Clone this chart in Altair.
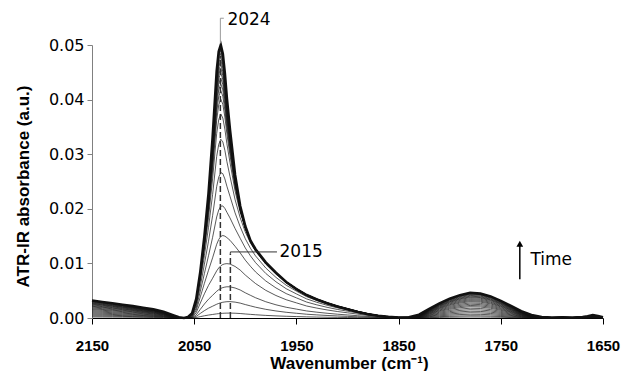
import altair as alt
import pandas as pd

grid = [2150, 2140, 2130, 2120, 2110, 2100, 2090, 2080, 2070, 2065,
        2060, 2056, 2052, 2048, 2044, 2040, 2036, 2032, 2028, 2026,
        2024, 2022, 2020, 2018, 2015, 2010, 2005, 2000, 1995, 1990,
        1980, 1970, 1960, 1950, 1940, 1930, 1920, 1910, 1900, 1890,
        1880, 1870, 1860, 1850, 1840, 1830, 1820, 1810, 1800, 1790,
        1780, 1770, 1760, 1750, 1740, 1730, 1720, 1710, 1700, 1690,
        1680, 1670, 1665, 1660, 1655, 1650]

# Main band of the last (top) spectrum, absolute absorbance
late_band = [0, 0, 0, 0, 0, 0, 0, 0, 0, 0,
             0, 0.0002, 0.0009, 0.0035, 0.0085, 0.0150, 0.0228, 0.0330, 0.0452, 0.0488,
             0.0500, 0.0484, 0.0448, 0.0402, 0.0345, 0.0262, 0.0205, 0.0168, 0.0142, 0.0126,
             0.0102, 0.0083, 0.0066, 0.0053, 0.0042, 0.0034, 0.0027, 0.0021, 0.0016, 0.0011,
             0.0007, 0.0004, 0.0002, 0.0001, 0, 0, 0, 0, 0, 0,
             0, 0, 0, 0, 0, 0, 0, 0, 0, 0,
             0, 0, 0, 0, 0, 0]
late_peak = 0.0500

# Main band shape of the early spectra (normalised to 1 at the 2015 peak)
early_band = [0, 0, 0, 0, 0, 0, 0, 0, 0, 0,
              0, 0.0, 0.01, 0.10, 0.28, 0.45, 0.60, 0.72, 0.84, 0.89,
              0.93, 0.96, 0.98, 0.995, 1.0, 0.97, 0.91, 0.82, 0.74, 0.66,
              0.53, 0.43, 0.35, 0.29, 0.23, 0.19, 0.155, 0.125, 0.10, 0.075,
              0.05, 0.03, 0.015, 0.005, 0, 0, 0, 0, 0, 0,
              0, 0, 0, 0, 0, 0, 0, 0, 0, 0,
              0, 0, 0, 0, 0, 0]

# High-wavenumber shoulder (normalised to 1 at 2150)
shoulder = [1.0, 0.92, 0.84, 0.76, 0.68, 0.59, 0.50, 0.36, 0.15, 0.04,
            0, 0, 0, 0, 0, 0, 0, 0, 0, 0,
            0, 0, 0, 0, 0, 0, 0, 0, 0, 0,
            0, 0, 0, 0, 0, 0, 0, 0, 0, 0,
            0, 0, 0, 0, 0, 0, 0, 0, 0, 0,
            0, 0, 0, 0, 0, 0, 0, 0, 0, 0,
            0, 0, 0, 0, 0, 0]
shoulder_top = 0.0032

# Band near 1780 (normalised to 1 at its maximum)
band1780 = [0, 0, 0, 0, 0, 0, 0, 0, 0, 0,
            0, 0, 0, 0, 0, 0, 0, 0, 0, 0,
            0, 0, 0, 0, 0, 0, 0, 0, 0, 0,
            0, 0, 0, 0, 0, 0, 0, 0, 0, 0,
            0, 0, 0, 0, 0.03, 0.13, 0.36, 0.58, 0.77, 0.91,
            1.0, 0.97, 0.86, 0.68, 0.48, 0.27, 0.12, 0.04, 0.02, 0.03,
            0.02, 0.04, 0.07, 0.12, 0.08, 0.03]
band_top = 0.0046

# Per-spectrum values (time order)
peak_heights = [0.0009, 0.0030, 0.0058, 0.0102, 0.0157, 0.0213, 0.0274, 0.0334,
                0.0379, 0.0405, 0.0420, 0.0432, 0.0442, 0.0451, 0.0459, 0.0466,
                0.0473, 0.0479, 0.0485, 0.0490, 0.0494, 0.0497, 0.0500]
late_share = [0, 0, 0.05, 0.1, 0.3, 0.45, 0.6, 0.72, 0.8, 0.85, 0.88, 0.9,
              0.92, 0.94, 0.95, 0.96, 0.97, 0.98, 0.99, 1, 1, 1, 1]
shoulder_amp = [0.06, 0.12, 0.18, 0.24, 0.30, 0.36, 0.42, 0.48, 0.53, 0.58, 0.63,
                0.67, 0.71, 0.75, 0.79, 0.82, 0.85, 0.88, 0.91, 0.94, 0.96, 0.98, 1.0]
band_amp = [0.04, 0.09, 0.15, 0.21, 0.27, 0.33, 0.39, 0.45, 0.50, 0.55, 0.60,
            0.65, 0.69, 0.73, 0.77, 0.81, 0.84, 0.87, 0.90, 0.93, 0.96, 0.98, 1.0]

x_ticks = [2150, 2050, 1950, 1850, 1750, 1650]
y_ticks = [0.00, 0.01, 0.02, 0.03, 0.04, 0.05]

for arr in (late_band, early_band, shoulder, band1780):
    assert len(arr) == len(grid)

rows = []
last = len(peak_heights) - 1
for i, (h, m, s, b) in enumerate(zip(peak_heights, late_share, shoulder_amp, band_amp)):
    for k, w in enumerate(grid):
        main = h * (m * late_band[k] / late_peak + (1 - m) * early_band[k])
        val = main + s * shoulder_top * shoulder[k] + b * band_top * band1780[k]
        rows.append({"curve": i, "wn": w, "a": val, "sw": 2.6 if i == last else 0.7})
df = pd.DataFrame(rows)

xs = alt.Scale(domain=[2150, 1650], nice=False, zero=False)
ys = alt.Scale(domain=[0, 0.05], nice=False)

FONT = "DejaVu Sans"
BOLD = "Liberation Sans"

curves = alt.Chart(df).mark_line(color="#111111", clip=False).encode(
    x=alt.X("wn:Q", scale=xs,
            axis=alt.Axis(values=x_ticks, format="d", title="Wavenumber (cm⁻¹)",
                          grid=False, domainColor="black", tickColor="black",
                          tickSize=6, labelPadding=14, labelFont=BOLD,
                          labelFontWeight="bold", labelFontSize=15,
                          labelColor="black", labelFlush=False,
                          titleFont=BOLD, titleFontWeight="bold", titleFontSize=17,
                          titleColor="black", titleBaseline="alphabetic",
                          titleY=50, titleX=257, titleAlign="center")),
    y=alt.Y("a:Q", scale=ys,
            axis=alt.Axis(values=y_ticks, format=".2f", title="ATR-IR absorbance (a.u.)",
                          grid=False, domainColor="#808080", tickColor="#808080",
                          tickSize=5, labelPadding=3, labelFont=FONT, labelFontSize=16,
                          labelColor="black", labelFlush=False,
                          titleFont=BOLD, titleFontWeight="bold", titleFontSize=17,
                          titleColor="black", titleX=-69, titleY=141,
                          titleBaseline="middle", titleAlign="center")),
    detail="curve:N",
    strokeWidth=alt.StrokeWidth("sw:Q", scale=None),
)

# annotation geometry
dash_df = pd.DataFrame({"wn": [2024.4, 2014.6], "y0": [0.0, 0.0], "y1": [0.0480, 0.0118]})
dashes = alt.Chart(dash_df).mark_rule(color="#333333", strokeDash=[6, 3],
                                      strokeWidth=1.5, clip=False).encode(
    x=alt.X("wn:Q", scale=xs), y=alt.Y("y0:Q", scale=ys), y2="y1:Q")

lead_gray = pd.DataFrame({"x0": [2024.4, 2024.4], "x1": [2024.4, 2021.0],
                          "y0": [0.0503, 0.0549], "y1": [0.0549, 0.0549]})
leaders_gray = alt.Chart(lead_gray).mark_rule(color="#9a9a9a", strokeWidth=1,
                                              clip=False).encode(
    x=alt.X("x0:Q", scale=xs), x2="x1:Q", y=alt.Y("y0:Q", scale=ys), y2="y1:Q")

lead_dark = pd.DataFrame({"x0": [2014.6, 2014.6], "x1": [2014.6, 1969.0],
                          "y0": [0.0118, 0.0121], "y1": [0.0121, 0.0121]})
leaders_dark = alt.Chart(lead_dark).mark_rule(color="#333333", strokeWidth=1,
                                              clip=False).encode(
    x=alt.X("x0:Q", scale=xs), x2="x1:Q", y=alt.Y("y0:Q", scale=ys), y2="y1:Q")

labels_df = pd.DataFrame({"wn": [2017.5, 1966.5, 1721.0],
                          "a": [0.0546, 0.0121, 0.0106],
                          "t": ["2024", "2015", "Time"]})
labels = alt.Chart(labels_df).mark_text(align="left", baseline="middle", font=FONT,
                                        fontSize=17, color="black", clip=False).encode(
    x=alt.X("wn:Q", scale=xs), y=alt.Y("a:Q", scale=ys), text="t:N")

arrow_df = pd.DataFrame({"wn": [1731.4], "y0": [0.0071], "y1": [0.0133], "tip": [0.0136]})
arrow_shaft = alt.Chart(arrow_df).mark_rule(color="black", strokeWidth=1.5, clip=False).encode(
    x=alt.X("wn:Q", scale=xs), y=alt.Y("y0:Q", scale=ys), y2="y1:Q")
arrow_head = alt.Chart(arrow_df).mark_point(shape="triangle-up", filled=True, color="black",
                                            size=45, opacity=1, clip=False).encode(
    x=alt.X("wn:Q", scale=xs), y=alt.Y("tip:Q", scale=ys))

chart = alt.layer(curves, dashes, leaders_gray, leaders_dark, labels,
                  arrow_shaft, arrow_head).properties(
    width=511, height=273,
    autosize=alt.AutoSizeParams(type="none"),
    padding={"left": 92, "top": 45, "right": 21, "bottom": 53},
    background="white",
).configure_view(stroke=None)

chart.save("out.html", embed_options={"renderer": "svg", "actions": False})
